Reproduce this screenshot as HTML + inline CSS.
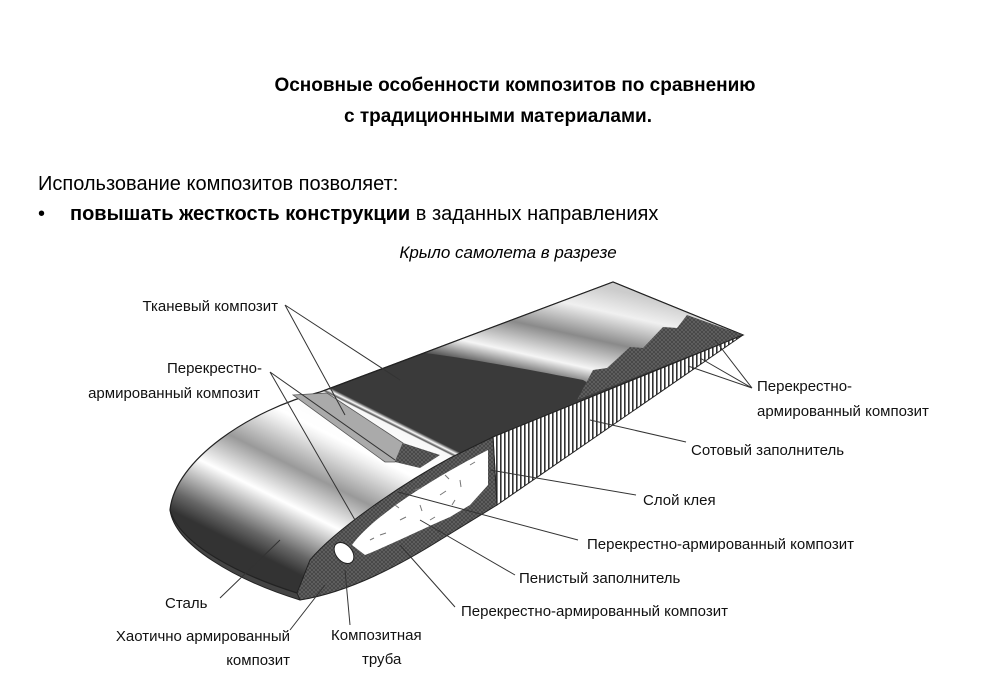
<!DOCTYPE html>
<html><head><meta charset="utf-8"><style>
body{margin:0;background:#fff;}
svg{display:block;font-family:"Liberation Sans","DejaVu Sans",sans-serif;}
</style></head><body>
<svg width="998" height="675" viewBox="0 0 998 675" xmlns="http://www.w3.org/2000/svg">
<defs>
<linearGradient id="g" gradientUnits="userSpaceOnUse" x1="0" y1="450" x2="200" y2="50">
<stop offset="0.05" stop-color="#333"/>
<stop offset="0.09" stop-color="#666"/>
<stop offset="0.18" stop-color="#fff"/>
<stop offset="0.26" stop-color="#999"/>
<stop offset="0.34" stop-color="#eee"/>
<stop offset="0.36" stop-color="#fff"/>
<stop offset="0.44" stop-color="#f8f8f8"/>
<stop offset="0.443" stop-color="#555"/>
<stop offset="0.448" stop-color="#fff"/>
<stop offset="0.455" stop-color="#3a3a3a"/>
<stop offset="1" stop-color="#3a3a3a"/>
</linearGradient>
<linearGradient id="g2" gradientUnits="userSpaceOnUse" x1="525" y1="378" x2="548" y2="275">
<stop offset="0" stop-color="#3a3a3a"/>
<stop offset="0.22" stop-color="#f5f5f5"/>
<stop offset="0.5" stop-color="#8a8a8a"/>
<stop offset="0.78" stop-color="#f0f0f0"/>
<stop offset="1" stop-color="#ccc"/>
</linearGradient>
<pattern id="h" width="4" height="10" patternUnits="userSpaceOnUse"><rect width="4" height="10" fill="#fff"/><rect width="1.6" height="10" fill="#333"/></pattern>
<pattern id="x" width="4" height="4" patternUnits="userSpaceOnUse"><rect width="4" height="4" fill="#444"/><path d="M0 0L4 4M4 0L0 4" stroke="#666" stroke-width="0.7"/></pattern>
</defs>

<text x="515" y="91" font-size="19" font-weight="bold" text-anchor="middle">Основные особенности композитов по сравнению</text>
<text x="498" y="122" font-size="19" font-weight="bold" text-anchor="middle">с традиционными материалами.</text>
<text x="38" y="190" font-size="20">Использование композитов позволяет:</text>
<text x="38" y="220" font-size="20">•</text>
<text x="70" y="220" font-size="20"><tspan font-weight="bold">повышать жесткость конструкции</tspan> в заданных направлениях</text>
<text x="508" y="258" font-size="17" font-style="italic" text-anchor="middle">Крыло самолета в разрезе</text>

<!-- lip under leading edge -->
<path d="M170,510 C175,545 235,580 300,600 L300,592 C240,570 185,545 170,510 Z" fill="#444" stroke="#222"/>
<!-- upper surface -->
<path d="M170,510 C175,460 250,410 320,392 L613,282 L743,335 L493,437 C430,470 330,540 297,593 C240,575 180,545 170,510 Z" fill="url(#g)" stroke="#222" stroke-width="1.2"/>
<!-- light region toward tip -->
<path d="M425,353 L613,282 L743,335 L600,390 L583,380 C540,372 480,360 425,353 Z" fill="url(#g2)"/>
<path d="M320,392 L613,282 L743,335" fill="none" stroke="#222" stroke-width="1.2"/>
<!-- grey piece -->
<path d="M293,395 L327,393 L403,443 L395,462 L385,462 Z" fill="#aaa" stroke="#555" stroke-width="0.8"/>
<path d="M395,462 L403,443 L440,455 L420,468 Z" fill="url(#x)"/>
<!-- tip crosshatch with steps -->
<path d="M687,315 L743,335 L577,400 L593,370 L607,368 L630,347 L643,348 L663,327 L677,328 Z" fill="url(#x)"/>
<!-- honeycomb -->
<path d="M493,437 L743,335 L497,505 Z" fill="url(#h)" stroke="#222"/>
<!-- cut face -->
<path d="M493,437 L450,458 C400,485 335,530 310,560 L297,593 L300,600 C350,592 400,565 440,540 L497,505 Z" fill="url(#x)" stroke="#222"/>
<path d="M352,545 C370,520 420,485 488,450 L488,485 L470,505 L450,517 C420,530 390,545 365,555 Z" fill="#fff"/>
<g stroke="#777" stroke-width="1">
<path d="M400,520l6,-3M420,505l2,6M440,495l6,-4M460,480l1,7M470,465l5,-3M380,535l6,-2M430,520l5,-3M455,500l-3,5M395,505l4,3M415,490l6,-2M370,540l4,-2M445,475l4,4"/>
</g>
<ellipse cx="344" cy="553" rx="8" ry="12" transform="rotate(-40 344 553)" fill="#fff" stroke="#222"/>

<g stroke="#333" stroke-width="1" fill="none">
<path d="M285,305 L400,380 M285,305 L345,415"/>
<path d="M270,372 L395,460 M270,372 L355,520"/>
<path d="M752,388 L715,340 M752,388 L700,358 M752,388 L688,366"/>
<path d="M686,442 L590,420"/>
<path d="M636,495 L490,470"/>
<path d="M578,540 L398,492"/>
<path d="M515,575 L420,520"/>
<path d="M455,607 L400,545"/>
<path d="M220,598 L280,540"/>
<path d="M290,630 L325,585"/>
<path d="M350,625 L345,570"/>
</g>

<g font-size="15" fill="#111">
<text x="278" y="311" text-anchor="end">Тканевый композит</text>
<text x="262" y="373" text-anchor="end">Перекрестно-</text>
<text x="260" y="398" text-anchor="end">армированный композит</text>
<text x="757" y="391">Перекрестно-</text>
<text x="757" y="416">армированный композит</text>
<text x="691" y="455">Сотовый заполнитель</text>
<text x="643" y="505">Слой клея</text>
<text x="587" y="549">Перекрестно-армированный композит</text>
<text x="519" y="583">Пенистый заполнитель</text>
<text x="461" y="616">Перекрестно-армированный композит</text>
<text x="165" y="608">Сталь</text>
<text x="290" y="641" text-anchor="end">Хаотично армированный</text>
<text x="290" y="665" text-anchor="end">композит</text>
<text x="331" y="640">Композитная</text>
<text x="362" y="664">труба</text>
</g>
</svg>
</body></html>
